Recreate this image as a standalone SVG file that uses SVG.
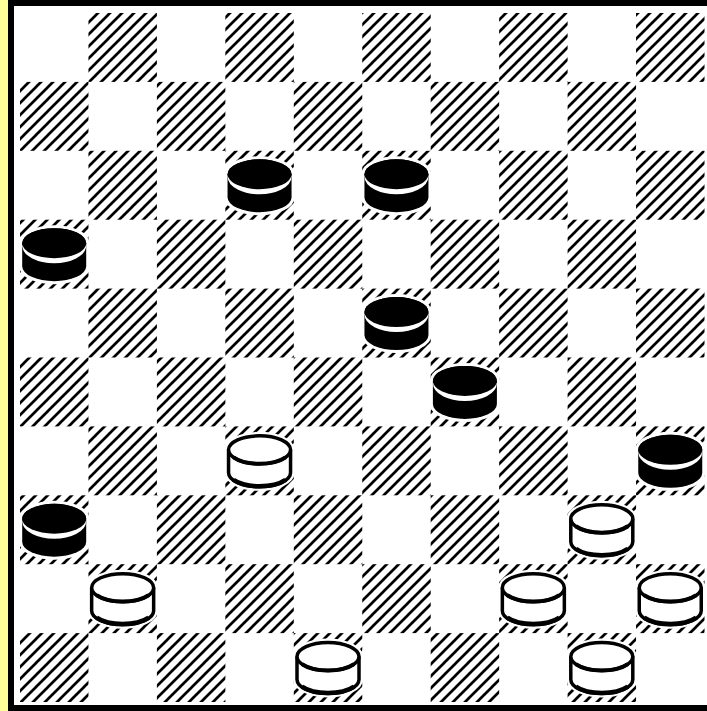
<svg xmlns="http://www.w3.org/2000/svg" width="707" height="711" viewBox="0 0 707 711">
  <defs>
    <pattern id="hatch" patternUnits="userSpaceOnUse" width="12" height="12" x="0" y="3">
      <path d="M0,12 L12,0 M-2,2 L2,-2 M10,14 L14,10" stroke="#000" stroke-width="2.7" fill="none"/>
    </pattern>
    <g id="bp">
      <path d="M-32,-11 A32,15 0 0 1 32,-11 V12 A32,15 0 0 1 -32,12 Z" fill="#fff" stroke="#fff" stroke-width="6"/>
      <path d="M-32,-11 A32,15 0 0 1 32,-11 V12 A32,15 0 0 1 -32,12 Z" fill="#000"/>
      <path d="M-29,-9 A29,15 0 0 0 29,-9" fill="none" stroke="#fff" stroke-width="6"/>
      <ellipse cx="0" cy="-11" rx="32" ry="15" fill="#000"/>
    </g>
    <g id="wp">
      <path d="M-32,-11 A32,15 0 0 1 32,-11 V12 A32,15 0 0 1 -32,12 Z" fill="#fff" stroke="#fff" stroke-width="6"/>
      <path d="M-31,-11 V12 A31,14 0 0 0 31,12 V-11" fill="#fff" stroke="#000" stroke-width="3.5"/>
      <path d="M-26,19 A31,14 0 0 0 26,19" fill="none" stroke="#000" stroke-width="4.5"/>
      <ellipse cx="0" cy="-11" rx="31" ry="14" fill="#fff" stroke="#000" stroke-width="3.5"/>
      <path d="M-26,-3.5 A31,14 0 0 0 26,-3.5" fill="none" stroke="#000" stroke-width="4"/>
    </g>
  </defs>
  <style>
    .d { fill: url(#hatch); }
  </style>
  <rect x="0" y="0" width="707" height="711" fill="#fff"/>
  <g id="board">
    <rect class="d" x="88.45" y="13" width="68.45" height="68.9"/>
    <rect class="d" x="225.35" y="13" width="68.45" height="68.9"/>
    <rect class="d" x="362.25" y="13" width="68.45" height="68.9"/>
    <rect class="d" x="499.15" y="13" width="68.45" height="68.9"/>
    <rect class="d" x="636.05" y="13" width="68.45" height="68.9"/>
    <rect class="d" x="20" y="81.9" width="68.45" height="68.9"/>
    <rect class="d" x="156.9" y="81.9" width="68.45" height="68.9"/>
    <rect class="d" x="293.8" y="81.9" width="68.45" height="68.9"/>
    <rect class="d" x="430.7" y="81.9" width="68.45" height="68.9"/>
    <rect class="d" x="567.6" y="81.9" width="68.45" height="68.9"/>
    <rect class="d" x="88.45" y="150.8" width="68.45" height="68.9"/>
    <rect class="d" x="225.35" y="150.8" width="68.45" height="68.9"/>
    <rect class="d" x="362.25" y="150.8" width="68.45" height="68.9"/>
    <rect class="d" x="499.15" y="150.8" width="68.45" height="68.9"/>
    <rect class="d" x="636.05" y="150.8" width="68.45" height="68.9"/>
    <rect class="d" x="20" y="219.7" width="68.45" height="68.9"/>
    <rect class="d" x="156.9" y="219.7" width="68.45" height="68.9"/>
    <rect class="d" x="293.8" y="219.7" width="68.45" height="68.9"/>
    <rect class="d" x="430.7" y="219.7" width="68.45" height="68.9"/>
    <rect class="d" x="567.6" y="219.7" width="68.45" height="68.9"/>
    <rect class="d" x="88.45" y="288.6" width="68.45" height="68.9"/>
    <rect class="d" x="225.35" y="288.6" width="68.45" height="68.9"/>
    <rect class="d" x="362.25" y="288.6" width="68.45" height="68.9"/>
    <rect class="d" x="499.15" y="288.6" width="68.45" height="68.9"/>
    <rect class="d" x="636.05" y="288.6" width="68.45" height="68.9"/>
    <rect class="d" x="20" y="357.5" width="68.45" height="68.9"/>
    <rect class="d" x="156.9" y="357.5" width="68.45" height="68.9"/>
    <rect class="d" x="293.8" y="357.5" width="68.45" height="68.9"/>
    <rect class="d" x="430.7" y="357.5" width="68.45" height="68.9"/>
    <rect class="d" x="567.6" y="357.5" width="68.45" height="68.9"/>
    <rect class="d" x="88.45" y="426.4" width="68.45" height="68.9"/>
    <rect class="d" x="225.35" y="426.4" width="68.45" height="68.9"/>
    <rect class="d" x="362.25" y="426.4" width="68.45" height="68.9"/>
    <rect class="d" x="499.15" y="426.4" width="68.45" height="68.9"/>
    <rect class="d" x="636.05" y="426.4" width="68.45" height="68.9"/>
    <rect class="d" x="20" y="495.3" width="68.45" height="68.9"/>
    <rect class="d" x="156.9" y="495.3" width="68.45" height="68.9"/>
    <rect class="d" x="293.8" y="495.3" width="68.45" height="68.9"/>
    <rect class="d" x="430.7" y="495.3" width="68.45" height="68.9"/>
    <rect class="d" x="567.6" y="495.3" width="68.45" height="68.9"/>
    <rect class="d" x="88.45" y="564.2" width="68.45" height="68.9"/>
    <rect class="d" x="225.35" y="564.2" width="68.45" height="68.9"/>
    <rect class="d" x="362.25" y="564.2" width="68.45" height="68.9"/>
    <rect class="d" x="499.15" y="564.2" width="68.45" height="68.9"/>
    <rect class="d" x="636.05" y="564.2" width="68.45" height="68.9"/>
    <rect class="d" x="20" y="633.1" width="68.45" height="68.9"/>
    <rect class="d" x="156.9" y="633.1" width="68.45" height="68.9"/>
    <rect class="d" x="293.8" y="633.1" width="68.45" height="68.9"/>
    <rect class="d" x="430.7" y="633.1" width="68.45" height="68.9"/>
    <rect class="d" x="567.6" y="633.1" width="68.45" height="68.9"/>
  </g>
  <g id="pieces">
    <g id="b-3-2" transform="translate(259.55,185.25)"><use href="#bp"/></g>
    <g id="b-5-2" transform="translate(396.45,185.25)"><use href="#bp"/></g>
    <g id="b-0-3" transform="translate(54.2,254.15)"><use href="#bp"/></g>
    <g id="b-5-4" transform="translate(396.45,323.05)"><use href="#bp"/></g>
    <g id="b-6-5" transform="translate(464.9,391.95)"><use href="#bp"/></g>
    <g id="w-3-6" transform="translate(259.55,460.85)"><use href="#wp"/></g>
    <g id="b-9-6" transform="translate(670.25,460.85)"><use href="#bp"/></g>
    <g id="b-0-7" transform="translate(54.2,529.75)"><use href="#bp"/></g>
    <g id="w-8-7" transform="translate(601.8,529.75)"><use href="#wp"/></g>
    <g id="w-1-8" transform="translate(122.65,598.65)"><use href="#wp"/></g>
    <g id="w-7-8" transform="translate(533.35,598.65)"><use href="#wp"/></g>
    <g id="w-9-8" transform="translate(670.25,598.65)"><use href="#wp"/></g>
    <g id="w-4-9" transform="translate(328,667.55)"><use href="#wp"/></g>
    <g id="w-8-9" transform="translate(601.8,667.55)"><use href="#wp"/></g>
  </g>
  <g id="frame">
    <rect x="8" y="0" width="699" height="6" fill="#000"/>
    <rect x="8" y="705" width="699" height="6" fill="#000"/>
    <rect x="8" y="0" width="6" height="711" fill="#000"/>
    <rect x="0" y="0" width="8" height="711" fill="#ffff99"/>
  </g>
</svg>
